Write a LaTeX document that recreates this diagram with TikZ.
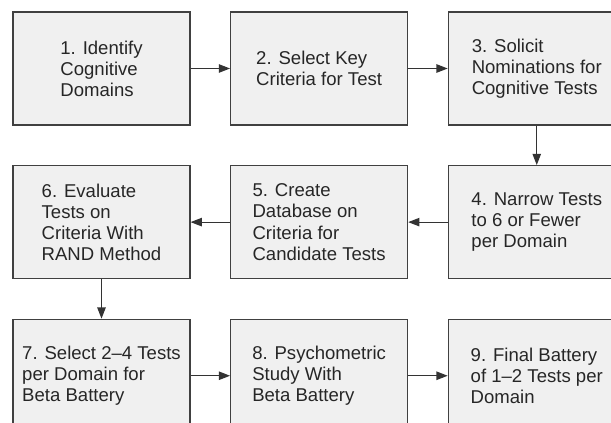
\documentclass[tikz,border=0pt]{standalone}
\usepackage{fontspec}
\setmainfont{Liberation Sans}
\usetikzlibrary{arrows.meta, positioning}
\tikzset{
  stepbox/.style={rectangle,
    minimum width=4.425cm, minimum height=2.825cm,
    draw=black!75, line width=0.8pt, fill=black!6, text=black!85,
    font=\fontsize{13.2}{15}\selectfont, align=left},
  arr/.style={-{Triangle[length=8pt, width=6pt]}, line width=0.8pt, draw=black!80},
}
\begin{document}
\begin{tikzpicture}[node distance=0.9875cm and 0.9875cm]

% Frame of the page (boxes on the right and bottom run off it)
\useasboundingbox (0,0) rectangle (15.275,-10.575);
\clip (0,0) rectangle (15.275,-10.575);

% Row 1
\node (b1) [stepbox] at (2.5375,-1.7125)
  {1. Identify\\Cognitive\\Domains};
\node (b2) [stepbox, right=of b1]
  {2. Select Key\\Criteria for Test};
\node (b3) [stepbox, right=of b2]
  {3. Solicit\\Nominations for\\Cognitive Tests};

% Row 2
\node (b4) [stepbox, below=of b3]
  {4. Narrow Tests\\to 6 or Fewer\\per Domain};
\node (b5) [stepbox, left=of b4]
  {5. Create\\Database on\\Criteria for\\Candidate Tests};
\node (b6) [stepbox, left=of b5]
  {6. Evaluate\\Tests on\\Criteria With\\RAND Method};

% Row 3
\node (b7) [stepbox, below=of b6]
  {7. Select 2--4 Tests\\per Domain for\\Beta Battery};
\node (b8) [stepbox, right=of b7]
  {8. Psychometric\\Study With\\Beta Battery};
\node (b9) [stepbox, right=of b8]
  {9. Final Battery\\of 1--2 Tests per\\Domain};

% Arrows
\draw[arr] (b1) -- (b2);
\draw[arr] (b2) -- (b3);
\draw[arr] (b3) -- (b4);
\draw[arr] (b4) -- (b5);
\draw[arr] (b5) -- (b6);
\draw[arr] (b6) -- (b7);
\draw[arr] (b7) -- (b8);
\draw[arr] (b8) -- (b9);

\end{tikzpicture}
\end{document}
